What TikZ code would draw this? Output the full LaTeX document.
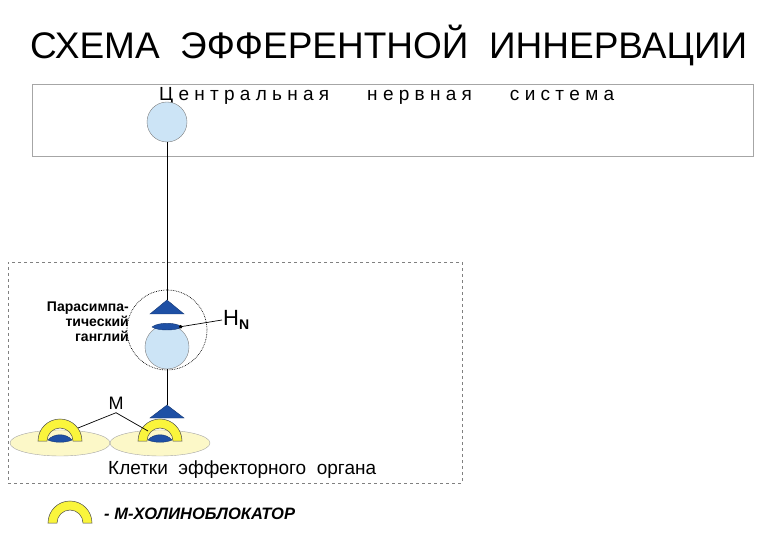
\documentclass[tikz,border=0pt]{standalone}
\usepackage{fontspec}
\setmainfont{Liberation Sans}
\usetikzlibrary{arrows.meta}
\definecolor{lb}{RGB}{204,228,246}
\definecolor{db}{RGB}{30,80,165}
\definecolor{yl}{RGB}{250,245,60}
\definecolor{cy}{RGB}{252,248,200}
\begin{document}
\begin{tikzpicture}[x=1pt,y=-1pt,
  cell/.style={draw=gray!70,fill=cy,line width=0.4pt},
  bluefill/.style={fill=db,draw=db!70!black},
  lbcirc/.style={circle,draw=gray,fill=lb,minimum size=42pt,inner sep=0pt},
  horse/.style={fill=yl,draw=gray!60!black,line width=0.5pt},
  conn/.style={draw=black,line width=0.7pt}]
\useasboundingbox (0,0) rectangle (780,540);
\node[anchor=west,font=\fontsize{37}{40}\selectfont,inner sep=0pt] (title) at (30,45) {СХЕМА\ \ ЭФФЕРЕНТНОЙ\ \ ИННЕРВАЦИИ};
\node[draw=gray!70,line width=0.6pt,minimum width=721pt,minimum height=72pt,inner sep=0pt] (cns) at (392.5,120) {};
\node[anchor=north west,font=\fontsize{19}{21}\selectfont,inner sep=0pt] (cnst) at (159,87) {Ц\ е\ н\ т\ р\ а\ л\ ь\ н\ а\ я\qquad н\ е\ р\ в\ н\ а\ я\qquad с\ и\ с\ т\ е\ м\ а};
\node[draw=gray,dashed,minimum width=454pt,minimum height=221pt,inner sep=0pt] (box) at (235,372.5) {};
\node[lbcirc,minimum size=40pt] (c1) at (167,122) {};
\node[circle,draw=black,densely dotted,line width=0.7pt,minimum size=80pt,inner sep=0pt] (dot) at (167,330) {};
\node[lbcirc,minimum size=44pt] (c2) at (167,347) {};
\draw[bluefill] (150,314) -- (167,300) -- (184,314) -- cycle;
\coordinate (t1) at (167,300);
\draw[bluefill] (152,327) .. controls (158,322) and (176,322) .. (182,327) .. controls (176,331) and (158,331) .. (152,327) -- cycle;
\draw[bluefill] (150,418) -- (167,405) -- (184,418) -- cycle;
\coordinate (t2) at (167,405);
\draw[conn] (c1.south) -- (t1);
\draw[conn] (c2.south) -- (t2);
\foreach \cx in {60,160}{
  \draw[cell] (\cx,443) ellipse (50 and 13);
  \draw[horse] ({\cx-22},441) arc (180:360:22) -- ({\cx+13},441) arc (360:180:13) -- cycle;
  \draw[bluefill] ({\cx-12},440) .. controls ({\cx-6},433) and ({\cx+6},433) .. ({\cx+12},440) .. controls ({\cx+6},443) and ({\cx-6},443) .. ({\cx-12},440) -- cycle;
}
\coordinate (ha) at (78,428);
\coordinate (hb) at (148,431);
\node[font=\fontsize{18}{19}\selectfont] (M) at (116,403) {М};
\draw[conn] (M.south) -- (ha);
\draw[conn] (M.south) -- (hb);
\node[font=\fontsize{22}{23}\selectfont,anchor=west,inner sep=1pt] (HN) at (222,320) {Н\raisebox{-4pt}{\bfseries\fontsize{14}{14}\selectfont N}};
\coordinate (rec) at (179,327);
\draw[conn,-{Circle[length=3.5pt]}] (HN.west) -- (rec);
\node[align=right,anchor=east,font=\bfseries\fontsize{14}{15}\selectfont,inner sep=0pt] (gang) at (129,322) {Парасимпа-\\тический\\ганглий};
\node[anchor=west,font=\fontsize{19}{21}\selectfont,inner sep=0pt] (eff) at (108,470) {Клетки\ \ эффекторного\ \ органа};
\draw[horse] (48,523) arc (180:360:22) -- (83,523) arc (360:180:13) -- cycle;
\node[anchor=west,font=\bfseries\itshape\fontsize{16.5}{18}\selectfont,inner sep=0pt] (leg) at (104,514) {- М-ХОЛИНОБЛОКАТОР};
\end{tikzpicture}
\end{document}
